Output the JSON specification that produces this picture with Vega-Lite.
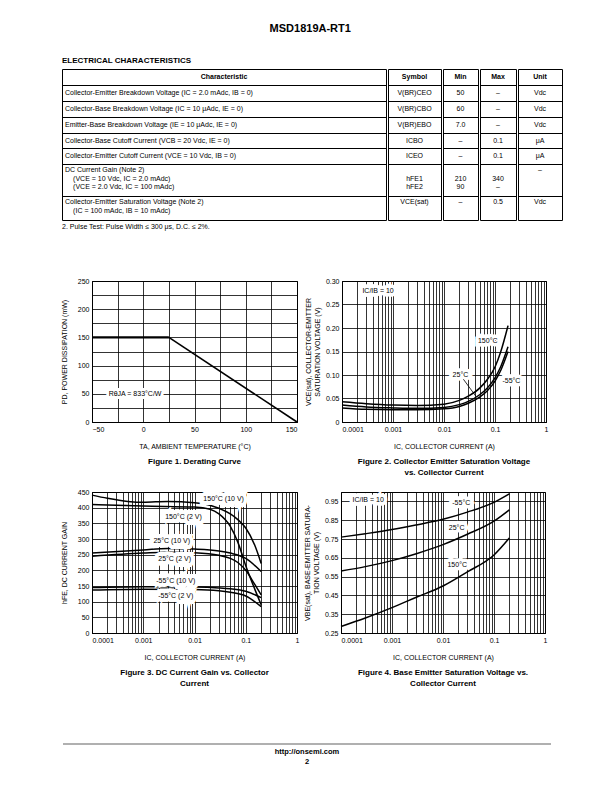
{
  "$schema": "https://vega.github.io/schema/vega-lite/v6.json",
  "background": "white",
  "padding": {"left": 58, "top": 22, "right": 0, "bottom": 0},
  "title": {"text": "MSD1819A-RT1", "fontSize": 11, "fontWeight": "bold", "anchor": "middle", "offset": 23, "font": "Liberation Sans", "color": "black"},
  "config": {
    "font": "Liberation Sans",
    "view": {"stroke": "black", "strokeWidth": 1},
    "axis": {"labelFont": "Liberation Sans", "labelFontSize": 7, "labelColor": "black", "titleFont": "Liberation Sans", "titleFontSize": 7, "titleFontWeight": "normal", "titleColor": "black", "gridColor": "black", "gridOpacity": 1, "gridWidth": 0.8, "domainColor": "black", "ticks": false, "labelPadding": 3, "titlePadding": 7},
    "title": {"font": "Liberation Sans", "color": "black"},
    "text": {"font": "Liberation Sans", "fontSize": 7, "color": "black"}
  },
  "datasets": {
    "table": [
      {"c": 0, "l": 1, "h": 1, "ind": 0, "t": "Characteristic"},
      {"c": 0, "l": 3, "h": 0, "ind": 0, "t": "Collector-Emitter Breakdown Voltage (IC = 2.0 mAdc, IB = 0)"},
      {"c": 0, "l": 5, "h": 0, "ind": 0, "t": "Collector-Base Breakdown Voltage (IC = 10 μAdc, IE = 0)"},
      {"c": 0, "l": 7, "h": 0, "ind": 0, "t": "Emitter-Base Breakdown Voltage (IE = 10 μAdc, IE = 0)"},
      {"c": 0, "l": 9, "h": 0, "ind": 0, "t": "Collector-Base Cutoff Current (VCB = 20 Vdc, IE = 0)"},
      {"c": 0, "l": 11, "h": 0, "ind": 0, "t": "Collector-Emitter Cutoff Current (VCE = 10 Vdc, IB = 0)"},
      {"c": 0, "l": 12.7, "h": 0, "ind": 0, "t": "DC Current Gain (Note 2)"},
      {"c": 0, "l": 13.85, "h": 0, "ind": 1, "t": "(VCE = 10 Vdc, IC = 2.0 mAdc)"},
      {"c": 0, "l": 14.9, "h": 0, "ind": 1, "t": "(VCE = 2.0 Vdc, IC = 100 mAdc)"},
      {"c": 0, "l": 16.75, "h": 0, "ind": 0, "t": "Collector-Emitter Saturation Voltage (Note 2)"},
      {"c": 0, "l": 17.9, "h": 0, "ind": 1, "t": "(IC = 100 mAdc, IB = 10 mAdc)"},
      {"c": 1, "l": 1, "h": 1, "ind": 0, "t": "Symbol"},
      {"c": 1, "l": 3, "h": 0, "ind": 0, "t": "V(BR)CEO"},
      {"c": 1, "l": 5, "h": 0, "ind": 0, "t": "V(BR)CBO"},
      {"c": 1, "l": 7, "h": 0, "ind": 0, "t": "V(BR)EBO"},
      {"c": 1, "l": 9, "h": 0, "ind": 0, "t": "ICBO"},
      {"c": 1, "l": 11, "h": 0, "ind": 0, "t": "ICEO"},
      {"c": 1, "l": 13.85, "h": 0, "ind": 0, "t": "hFE1"},
      {"c": 1, "l": 14.9, "h": 0, "ind": 0, "t": "hFE2"},
      {"c": 1, "l": 16.75, "h": 0, "ind": 0, "t": "VCE(sat)"},
      {"c": 2, "l": 1, "h": 1, "ind": 0, "t": "Min"},
      {"c": 2, "l": 3, "h": 0, "ind": 0, "t": "50"},
      {"c": 2, "l": 5, "h": 0, "ind": 0, "t": "60"},
      {"c": 2, "l": 7, "h": 0, "ind": 0, "t": "7.0"},
      {"c": 2, "l": 9, "h": 0, "ind": 0, "t": "–"},
      {"c": 2, "l": 11, "h": 0, "ind": 0, "t": "–"},
      {"c": 2, "l": 13.85, "h": 0, "ind": 0, "t": "210"},
      {"c": 2, "l": 14.9, "h": 0, "ind": 0, "t": "90"},
      {"c": 2, "l": 16.75, "h": 0, "ind": 0, "t": "–"},
      {"c": 3, "l": 1, "h": 1, "ind": 0, "t": "Max"},
      {"c": 3, "l": 3, "h": 0, "ind": 0, "t": "–"},
      {"c": 3, "l": 5, "h": 0, "ind": 0, "t": "–"},
      {"c": 3, "l": 7, "h": 0, "ind": 0, "t": "–"},
      {"c": 3, "l": 9, "h": 0, "ind": 0, "t": "0.1"},
      {"c": 3, "l": 11, "h": 0, "ind": 0, "t": "0.1"},
      {"c": 3, "l": 13.85, "h": 0, "ind": 0, "t": "340"},
      {"c": 3, "l": 14.9, "h": 0, "ind": 0, "t": "–"},
      {"c": 3, "l": 16.75, "h": 0, "ind": 0, "t": "0.5"},
      {"c": 4, "l": 1, "h": 1, "ind": 0, "t": "Unit"},
      {"c": 4, "l": 3, "h": 0, "ind": 0, "t": "Vdc"},
      {"c": 4, "l": 5, "h": 0, "ind": 0, "t": "Vdc"},
      {"c": 4, "l": 7, "h": 0, "ind": 0, "t": "Vdc"},
      {"c": 4, "l": 9, "h": 0, "ind": 0, "t": "μA"},
      {"c": 4, "l": 11, "h": 0, "ind": 0, "t": "μA"},
      {"c": 4, "l": 12.7, "h": 0, "ind": 0, "t": "–"},
      {"c": 4, "l": 16.75, "h": 0, "ind": 0, "t": "Vdc"}
    ],
    "f1": [
      {"x": -50, "y": 150, "s": "a"}, {"x": 25, "y": 150, "s": "a"},
      {"x": 25, "y": 150, "s": "b"}, {"x": 150, "y": 0, "s": "b"}
    ],
    "f1lab": [{"x": -8, "y": 50, "t": "RθJA = 833°C/W"}],
    "f2": [
      {"s": "150", "x": 0.0001, "y": 0.043}, {"s": "150", "x": 0.0003, "y": 0.039}, {"s": "150", "x": 0.001, "y": 0.036}, {"s": "150", "x": 0.003, "y": 0.035}, {"s": "150", "x": 0.01, "y": 0.038}, {"s": "150", "x": 0.02, "y": 0.046}, {"s": "150", "x": 0.03, "y": 0.055}, {"s": "150", "x": 0.05, "y": 0.072}, {"s": "150", "x": 0.07, "y": 0.09}, {"s": "150", "x": 0.1, "y": 0.117}, {"s": "150", "x": 0.13, "y": 0.15}, {"s": "150", "x": 0.18, "y": 0.205},
      {"s": "25", "x": 0.0001, "y": 0.036}, {"s": "25", "x": 0.0003, "y": 0.032}, {"s": "25", "x": 0.001, "y": 0.03}, {"s": "25", "x": 0.003, "y": 0.029}, {"s": "25", "x": 0.01, "y": 0.031}, {"s": "25", "x": 0.02, "y": 0.037}, {"s": "25", "x": 0.03, "y": 0.044}, {"s": "25", "x": 0.05, "y": 0.058}, {"s": "25", "x": 0.07, "y": 0.072}, {"s": "25", "x": 0.1, "y": 0.094}, {"s": "25", "x": 0.13, "y": 0.118}, {"s": "25", "x": 0.18, "y": 0.16},
      {"s": "-55", "x": 0.0001, "y": 0.03}, {"s": "-55", "x": 0.0003, "y": 0.027}, {"s": "-55", "x": 0.001, "y": 0.026}, {"s": "-55", "x": 0.003, "y": 0.026}, {"s": "-55", "x": 0.01, "y": 0.028}, {"s": "-55", "x": 0.02, "y": 0.033}, {"s": "-55", "x": 0.03, "y": 0.04}, {"s": "-55", "x": 0.05, "y": 0.053}, {"s": "-55", "x": 0.07, "y": 0.066}, {"s": "-55", "x": 0.1, "y": 0.087}, {"s": "-55", "x": 0.13, "y": 0.11}, {"s": "-55", "x": 0.18, "y": 0.15}
    ],
    "f2lab": [
      {"x": 0.00051, "y": 0.279, "t": "IC/IB = 10"},
      {"x": 0.072, "y": 0.172, "t": "150°C"},
      {"x": 0.021, "y": 0.099, "t": "25°C"},
      {"x": 0.21, "y": 0.087, "t": "-55°C"}
    ],
    "f2lead": [{"x": 0.024, "y": 0.091, "x2": 0.042, "y2": 0.055}],
    "f3": [
      {"s": "150/10", "x": 0.0001, "y": 440}, {"s": "150/10", "x": 0.0002, "y": 430}, {"s": "150/10", "x": 0.0005, "y": 420}, {"s": "150/10", "x": 0.001, "y": 417}, {"s": "150/10", "x": 0.003, "y": 420}, {"s": "150/10", "x": 0.01, "y": 416}, {"s": "150/10", "x": 0.02, "y": 408}, {"s": "150/10", "x": 0.03, "y": 398}, {"s": "150/10", "x": 0.05, "y": 380}, {"s": "150/10", "x": 0.07, "y": 362}, {"s": "150/10", "x": 0.1, "y": 335}, {"s": "150/10", "x": 0.15, "y": 280}, {"s": "150/10", "x": 0.2, "y": 222},
      {"s": "150/2", "x": 0.0001, "y": 410}, {"s": "150/2", "x": 0.001, "y": 405}, {"s": "150/2", "x": 0.01, "y": 402}, {"s": "150/2", "x": 0.02, "y": 395}, {"s": "150/2", "x": 0.03, "y": 380}, {"s": "150/2", "x": 0.05, "y": 340}, {"s": "150/2", "x": 0.07, "y": 290}, {"s": "150/2", "x": 0.1, "y": 215}, {"s": "150/2", "x": 0.15, "y": 140}, {"s": "150/2", "x": 0.2, "y": 90},
      {"s": "25/10", "x": 0.0001, "y": 255}, {"s": "25/10", "x": 0.001, "y": 265}, {"s": "25/10", "x": 0.003, "y": 270}, {"s": "25/10", "x": 0.01, "y": 268}, {"s": "25/10", "x": 0.03, "y": 262}, {"s": "25/10", "x": 0.05, "y": 255}, {"s": "25/10", "x": 0.1, "y": 238}, {"s": "25/10", "x": 0.2, "y": 196},
      {"s": "25/2", "x": 0.0001, "y": 245}, {"s": "25/2", "x": 0.001, "y": 255}, {"s": "25/2", "x": 0.003, "y": 258}, {"s": "25/2", "x": 0.01, "y": 256}, {"s": "25/2", "x": 0.03, "y": 248}, {"s": "25/2", "x": 0.05, "y": 238}, {"s": "25/2", "x": 0.07, "y": 225}, {"s": "25/2", "x": 0.1, "y": 200}, {"s": "25/2", "x": 0.15, "y": 155}, {"s": "25/2", "x": 0.2, "y": 122},
      {"s": "-55/10", "x": 0.0001, "y": 145}, {"s": "-55/10", "x": 0.001, "y": 148}, {"s": "-55/10", "x": 0.01, "y": 147}, {"s": "-55/10", "x": 0.03, "y": 144}, {"s": "-55/10", "x": 0.05, "y": 141}, {"s": "-55/10", "x": 0.1, "y": 133}, {"s": "-55/10", "x": 0.2, "y": 113},
      {"s": "-55/2", "x": 0.0001, "y": 137}, {"s": "-55/2", "x": 0.001, "y": 140}, {"s": "-55/2", "x": 0.01, "y": 139}, {"s": "-55/2", "x": 0.03, "y": 135}, {"s": "-55/2", "x": 0.05, "y": 130}, {"s": "-55/2", "x": 0.1, "y": 118}, {"s": "-55/2", "x": 0.2, "y": 84}
    ],
    "f3lab": [
      {"x": 0.037, "y": 428, "t": "150°C (10 V)"},
      {"x": 0.0061, "y": 370, "t": "150°C (2 V)"},
      {"x": 0.0036, "y": 294, "t": "25°C (10 V)"},
      {"x": 0.0041, "y": 236, "t": "25°C (2 V)"},
      {"x": 0.0043, "y": 167, "t": "-55°C (10 V)"},
      {"x": 0.0043, "y": 118, "t": "-55°C (2 V)"}
    ],
    "f4": [
      {"s": "-55", "x": 0.0001, "y": 0.76}, {"s": "-55", "x": 0.0003, "y": 0.778}, {"s": "-55", "x": 0.001, "y": 0.8}, {"s": "-55", "x": 0.003, "y": 0.825}, {"s": "-55", "x": 0.01, "y": 0.855}, {"s": "-55", "x": 0.03, "y": 0.893}, {"s": "-55", "x": 0.1, "y": 0.945}, {"s": "-55", "x": 0.2, "y": 0.99},
      {"s": "25", "x": 0.0001, "y": 0.58}, {"s": "25", "x": 0.0003, "y": 0.603}, {"s": "25", "x": 0.001, "y": 0.635}, {"s": "25", "x": 0.003, "y": 0.672}, {"s": "25", "x": 0.01, "y": 0.72}, {"s": "25", "x": 0.03, "y": 0.775}, {"s": "25", "x": 0.1, "y": 0.845}, {"s": "25", "x": 0.2, "y": 0.905},
      {"s": "150", "x": 0.0001, "y": 0.285}, {"s": "150", "x": 0.0003, "y": 0.33}, {"s": "150", "x": 0.001, "y": 0.385}, {"s": "150", "x": 0.003, "y": 0.44}, {"s": "150", "x": 0.01, "y": 0.5}, {"s": "150", "x": 0.03, "y": 0.575}, {"s": "150", "x": 0.1, "y": 0.665}, {"s": "150", "x": 0.2, "y": 0.755}
    ],
    "f4lab": [
      {"x": 0.00034, "y": 0.955, "t": "IC/IB = 10"},
      {"x": 0.0228, "y": 0.943, "t": "-55°C"},
      {"x": 0.0185, "y": 0.81, "t": "25°C"},
      {"x": 0.019, "y": 0.612, "t": "150°C"}
    ],
    "foot": [{"x": 0, "x2": 1, "y": 0}],
    "none": []
  },
  "spacing": 45,
  "vconcat": [
    {
      "title": {"text": "ELECTRICAL CHARACTERISTICS", "anchor": "start", "fontSize": 8, "fontWeight": "bold", "offset": 4, "dx": 4},
      "spacing": 0,
      "hconcat": [
        {"width": 3, "height": 1, "view": {"stroke": null}, "data": {"name": "none"}, "mark": "point"},
        {
          "width": 324, "height": 151,
          "title": {"text": "2.  Pulse Test: Pulse Width ≤ 300 μs, D.C. ≤ 2%.", "orient": "bottom", "anchor": "start", "fontSize": 7, "fontWeight": "normal", "offset": 3},
          "data": {"name": "table"},
          "transform": [{"filter": "datum.c == 0"}],
          "encoding": {
            "y": {"field": "l", "type": "quantitative", "scale": {"domain": [0, 19], "reverse": true, "nice": false, "zero": false}, "axis": {"values": [2, 4, 6, 8, 10, 12, 16], "grid": true, "gridWidth": 1, "labels": false, "domain": false, "ticks": false, "title": null, "minExtent": 0}},
            "text": {"field": "t", "type": "nominal"}
          },
          "layer": [
            {"transform": [{"filter": "datum.h == 1"}], "mark": {"type": "text", "fontWeight": "bold", "baseline": "middle"}},
            {"transform": [{"filter": "datum.h == 0"}], "mark": {"type": "text", "align": "left", "dx": 3, "baseline": "middle"},
             "encoding": {"x": {"field": "ind", "type": "quantitative", "scale": {"domain": [0, 40], "nice": false}, "axis": null}}}
          ]
        },
        {
          "width": 53, "height": 151,
          "data": {"name": "table"},
          "transform": [{"filter": "datum.c == 1"}],
          "encoding": {
            "y": {"field": "l", "type": "quantitative", "scale": {"domain": [0, 19], "reverse": true, "nice": false, "zero": false}, "axis": {"values": [2, 4, 6, 8, 10, 12, 16], "grid": true, "gridWidth": 1, "labels": false, "domain": false, "ticks": false, "title": null, "minExtent": 0}},
            "text": {"field": "t", "type": "nominal"}
          },
          "layer": [
            {"transform": [{"filter": "datum.h == 1"}], "mark": {"type": "text", "fontWeight": "bold", "baseline": "middle"}},
            {"transform": [{"filter": "datum.h == 0"}], "mark": {"type": "text", "baseline": "middle"}}
          ]
        },
        {
          "width": 35, "height": 151,
          "data": {"name": "table"},
          "transform": [{"filter": "datum.c == 2"}],
          "encoding": {
            "y": {"field": "l", "type": "quantitative", "scale": {"domain": [0, 19], "reverse": true, "nice": false, "zero": false}, "axis": {"values": [2, 4, 6, 8, 10, 12, 16], "grid": true, "gridWidth": 1, "labels": false, "domain": false, "ticks": false, "title": null, "minExtent": 0}},
            "text": {"field": "t", "type": "nominal"}
          },
          "layer": [
            {"transform": [{"filter": "datum.h == 1"}], "mark": {"type": "text", "fontWeight": "bold", "baseline": "middle"}},
            {"transform": [{"filter": "datum.h == 0"}], "mark": {"type": "text", "baseline": "middle"}}
          ]
        },
        {
          "width": 36, "height": 151,
          "data": {"name": "table"},
          "transform": [{"filter": "datum.c == 3"}],
          "encoding": {
            "y": {"field": "l", "type": "quantitative", "scale": {"domain": [0, 19], "reverse": true, "nice": false, "zero": false}, "axis": {"values": [2, 4, 6, 8, 10, 12, 16], "grid": true, "gridWidth": 1, "labels": false, "domain": false, "ticks": false, "title": null, "minExtent": 0}},
            "text": {"field": "t", "type": "nominal"}
          },
          "layer": [
            {"transform": [{"filter": "datum.h == 1"}], "mark": {"type": "text", "fontWeight": "bold", "baseline": "middle"}},
            {"transform": [{"filter": "datum.h == 0"}], "mark": {"type": "text", "baseline": "middle"}}
          ]
        },
        {
          "width": 44, "height": 151,
          "data": {"name": "table"},
          "transform": [{"filter": "datum.c == 4"}],
          "encoding": {
            "y": {"field": "l", "type": "quantitative", "scale": {"domain": [0, 19], "reverse": true, "nice": false, "zero": false}, "axis": {"values": [2, 4, 6, 8, 10, 12, 16], "grid": true, "gridWidth": 1, "labels": false, "domain": false, "ticks": false, "title": null, "minExtent": 0}},
            "text": {"field": "t", "type": "nominal"}
          },
          "layer": [
            {"transform": [{"filter": "datum.h == 1"}], "mark": {"type": "text", "fontWeight": "bold", "baseline": "middle"}},
            {"transform": [{"filter": "datum.h == 0"}], "mark": {"type": "text", "baseline": "middle"}}
          ]
        }
      ]
    },
    {
      "spacing": 0,
      "hconcat": [
        {"width": 1, "height": 1, "view": {"stroke": null}, "data": {"name": "none"}, "mark": "point"},
        {
          "spacing": 9,
          "vconcat": [
            {
              "spacing": 2,
              "hconcat": [
                {
                  "width": 205, "height": 141,
                  "title": {"text": "Figure 1. Derating Curve", "orient": "bottom", "frame": "group", "fontSize": 8, "fontWeight": "bold", "offset": 9},
                  "encoding": {
                    "x": {"field": "x", "type": "quantitative", "scale": {"domain": [-50, 150], "nice": false, "zero": false},
                          "axis": {"title": "TA, AMBIENT TEMPERATURE (°C)", "values": [-50, -25, 0, 25, 50, 75, 100, 125, 150], "labelExpr": "datum.value % 50 == 0 ? datum.label : ''", "grid": true, "titlePadding": 10}},
                    "y": {"field": "y", "type": "quantitative", "scale": {"domain": [0, 250], "nice": false},
                          "axis": {"title": "PD, POWER DISSIPATION (mW)", "values": [0, 25, 50, 75, 100, 125, 150, 175, 200, 225, 250], "labelExpr": "datum.value % 50 == 0 ? datum.label : ''", "grid": true, "titlePadding": 10}}
                  },
                  "layer": [
                    {"data": {"name": "f1"}, "mark": {"type": "line", "color": "black"},
                     "encoding": {"detail": {"field": "s", "type": "nominal"}, "strokeWidth": {"field": "s", "type": "nominal", "scale": {"domain": ["a", "b"], "range": [2.3, 1.6]}, "legend": null}}},
                    {"data": {"name": "f1lab"}, "mark": {"type": "text", "color": "white", "stroke": "white", "strokeWidth": 6, "fontSize": 7}, "encoding": {"text": {"field": "t", "type": "nominal"}}},
                    {"data": {"name": "f1lab"}, "mark": {"type": "text", "fontSize": 7}, "encoding": {"text": {"field": "t", "type": "nominal"}}}
                  ]
                },
                {
                  "width": 204, "height": 141,
                  "title": {"text": ["Figure 2. Collector Emitter Saturation Voltage", "vs. Collector Current"], "orient": "bottom", "frame": "group", "fontSize": 8, "fontWeight": "bold", "offset": 9, "lineHeight": 11},
                  "encoding": {
                    "x": {"field": "x", "type": "quantitative", "scale": {"type": "log", "domain": [0.0001, 1], "nice": false},
                          "axis": {"title": "IC, COLLECTOR CURRENT (A)", "grid": true, "titlePadding": 10,
                                   "values": [0.0001, 0.0002, 0.0003, 0.0004, 0.0005, 0.0006, 0.0007, 0.0008, 0.0009, 0.001, 0.002, 0.003, 0.004, 0.005, 0.006, 0.007, 0.008, 0.009, 0.01, 0.02, 0.03, 0.04, 0.05, 0.06, 0.07, 0.08, 0.09, 0.1, 0.2, 0.3, 0.4, 0.5, 0.6, 0.7, 0.8, 0.9, 1],
                                   "labelExpr": "datum.value == 0.0001 ? '0.0001' : datum.value == 0.001 ? '0.001' : datum.value == 0.01 ? '0.01' : datum.value == 0.1 ? '0.1' : datum.value == 1 ? '1' : ''",
                                   "labelAlign": {"condition": {"test": "datum.value < 0.00015", "value": "left"}, "value": "center"}}},
                    "y": {"field": "y", "type": "quantitative", "scale": {"domain": [0, 0.3], "nice": false},
                          "axis": {"title": ["VCE(sat), COLLECTOR-EMITTER", "SATURATION VOLTAGE (V)"], "values": [0, 0.05, 0.1, 0.15, 0.2, 0.25, 0.3], "labelExpr": "datum.value == 0 ? '0' : format(datum.value, '.2f')", "grid": true, "titlePadding": 5}}
                  },
                  "layer": [
                    {"data": {"name": "f2"}, "mark": {"type": "line", "color": "black", "strokeWidth": 1.5, "interpolate": "monotone"}, "encoding": {"detail": {"field": "s", "type": "nominal"}}},
                    {"data": {"name": "f2lab"}, "mark": {"type": "text", "color": "white", "stroke": "white", "strokeWidth": 7, "fontSize": 7}, "encoding": {"text": {"field": "t", "type": "nominal"}}},
                    {"data": {"name": "f2lead"}, "mark": {"type": "rule", "color": "black", "strokeWidth": 0.8}, "encoding": {"x2": {"field": "x2"}, "y2": {"field": "y2"}}},
                    {"data": {"name": "f2lab"}, "mark": {"type": "text", "fontSize": 7}, "encoding": {"text": {"field": "t", "type": "nominal"}}}
                  ]
                }
              ]
            },
            {
              "spacing": 2,
              "hconcat": [
                {
                  "width": 205, "height": 141,
                  "title": {"text": ["Figure 3. DC Current Gain vs. Collector", "Current"], "orient": "bottom", "frame": "group", "fontSize": 8, "fontWeight": "bold", "offset": 9, "lineHeight": 11},
                  "encoding": {
                    "x": {"field": "x", "type": "quantitative", "scale": {"type": "log", "domain": [0.0001, 1], "nice": false},
                          "axis": {"title": "IC, COLLECTOR CURRENT (A)", "grid": true, "titlePadding": 10,
                                   "values": [0.0001, 0.0002, 0.0003, 0.0004, 0.0005, 0.0006, 0.0007, 0.0008, 0.0009, 0.001, 0.002, 0.003, 0.004, 0.005, 0.006, 0.007, 0.008, 0.009, 0.01, 0.02, 0.03, 0.04, 0.05, 0.06, 0.07, 0.08, 0.09, 0.1, 0.2, 0.3, 0.4, 0.5, 0.6, 0.7, 0.8, 0.9, 1],
                                   "labelExpr": "datum.value == 0.0001 ? '0.0001' : datum.value == 0.001 ? '0.001' : datum.value == 0.01 ? '0.01' : datum.value == 0.1 ? '0.1' : datum.value == 1 ? '1' : ''",
                                   "labelAlign": {"condition": {"test": "datum.value < 0.00015", "value": "left"}, "value": "center"}}},
                    "y": {"field": "y", "type": "quantitative", "scale": {"domain": [0, 450], "nice": false},
                          "axis": {"title": "hFE, DC CURRENT GAIN", "values": [0, 50, 100, 150, 200, 250, 300, 350, 400, 450], "grid": true, "titlePadding": 10}}
                  },
                  "layer": [
                    {"data": {"name": "f3"}, "mark": {"type": "line", "color": "black", "strokeWidth": 1.5, "interpolate": "monotone"}, "encoding": {"detail": {"field": "s", "type": "nominal"}}},
                    {"data": {"name": "f3lab"}, "mark": {"type": "text", "color": "white", "stroke": "white", "strokeWidth": 8, "fontSize": 7}, "encoding": {"text": {"field": "t", "type": "nominal"}}},
                    {"data": {"name": "f3lab"}, "mark": {"type": "text", "fontSize": 7}, "encoding": {"text": {"field": "t", "type": "nominal"}}}
                  ]
                },
                {
                  "width": 204, "height": 141,
                  "title": {"text": ["Figure 4. Base Emitter Saturation Voltage vs.", "Collector Current"], "orient": "bottom", "frame": "group", "fontSize": 8, "fontWeight": "bold", "offset": 9, "lineHeight": 11},
                  "encoding": {
                    "x": {"field": "x", "type": "quantitative", "scale": {"type": "log", "domain": [0.0001, 1], "nice": false},
                          "axis": {"title": "IC, COLLECTOR CURRENT (A)", "grid": true, "titlePadding": 10,
                                   "values": [0.0001, 0.0002, 0.0003, 0.0004, 0.0005, 0.0006, 0.0007, 0.0008, 0.0009, 0.001, 0.002, 0.003, 0.004, 0.005, 0.006, 0.007, 0.008, 0.009, 0.01, 0.02, 0.03, 0.04, 0.05, 0.06, 0.07, 0.08, 0.09, 0.1, 0.2, 0.3, 0.4, 0.5, 0.6, 0.7, 0.8, 0.9, 1],
                                   "labelExpr": "datum.value == 0.0001 ? '0.0001' : datum.value == 0.001 ? '0.001' : datum.value == 0.01 ? '0.01' : datum.value == 0.1 ? '0.1' : datum.value == 1 ? '1' : ''",
                                   "labelAlign": {"condition": {"test": "datum.value < 0.00015", "value": "left"}, "value": "center"}}},
                    "y": {"field": "y", "type": "quantitative", "scale": {"domain": [0.25, 1.0], "nice": false, "zero": false},
                          "axis": {"title": ["VBE(sat), BASE-EMITTER SATURA-", "TION VOLTAGE (V)"], "values": [0.25, 0.35, 0.45, 0.55, 0.65, 0.75, 0.85, 0.95], "format": ".2f", "grid": true, "titlePadding": 5}}
                  },
                  "layer": [
                    {"data": {"name": "f4"}, "mark": {"type": "line", "color": "black", "strokeWidth": 1.5, "interpolate": "monotone"}, "encoding": {"detail": {"field": "s", "type": "nominal"}}},
                    {"data": {"name": "f4lab"}, "mark": {"type": "text", "color": "white", "stroke": "white", "strokeWidth": 7, "fontSize": 7}, "encoding": {"text": {"field": "t", "type": "nominal"}}},
                    {"data": {"name": "f4lab"}, "mark": {"type": "text", "fontSize": 7}, "encoding": {"text": {"field": "t", "type": "nominal"}}}
                  ]
                }
              ]
            }
          ]
        }
      ]
    },
    {
      "spacing": 0,
      "hconcat": [
        {"width": 4, "height": 1, "view": {"stroke": null}, "data": {"name": "none"}, "mark": "point"},
        {
          "width": 488, "height": 10,
          "view": {"stroke": null},
          "data": {"name": "foot"},
          "title": {"text": "http://onsemi.com", "subtitle": "2", "orient": "bottom", "frame": "group", "anchor": "middle", "fontSize": 7.5, "fontWeight": "bold", "subtitleFontSize": 7.5, "subtitleFontWeight": "bold", "subtitleFont": "Liberation Sans", "subtitleColor": "black", "subtitlePadding": 2, "offset": 3},
          "mark": {"type": "rule", "color": "#b0b0b0", "strokeWidth": 2},
          "encoding": {
            "x": {"field": "x", "type": "quantitative", "scale": {"domain": [0, 1], "nice": false}, "axis": null},
            "x2": {"field": "x2"},
            "y": {"field": "y", "type": "quantitative", "scale": {"domain": [0, 1], "nice": false}, "axis": null}
          }
        }
      ]
    }
  ]
}
